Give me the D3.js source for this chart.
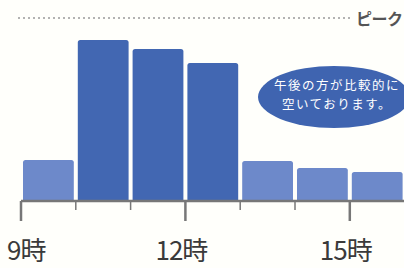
<!DOCTYPE html>
<html>
<head>
<meta charset="utf-8">
<script src="https://cdn.jsdelivr.net/npm/d3@7"></script>
<style>
  body { margin: 0; background: #fffffb; }
  svg { display: block; font-family: "Noto Sans CJK JP", sans-serif; }
</style>
</head>
<body>
<svg id="chart" width="404" height="268"></svg>
<script>
// Data
var hours = [9, 10, 11, 12, 13, 14, 15];
var crowd = [40, 160, 151, 137, 39, 32, 28];
var busy = [false, true, true, true, false, false, false];
var labelHours = [9, 12, 15];
var peakValue = 182;
var peakLabel = "ピーク";
var noteLines = ["午後の方が比較的に", "空いております。"];

var svg = d3.select("#chart");

var x = d3.scaleLinear().domain([9, 16]).range([21, 404.6]);
var y = d3.scaleLinear().domain([0, 200]).range([200, 0]);

// peak line
svg.append("line")
  .attr("x1", 18).attr("x2", 352)
  .attr("y1", y(peakValue)).attr("y2", y(peakValue))
  .attr("stroke", "#9a9a9a")
  .attr("stroke-width", 1.6)
  .attr("stroke-dasharray", "2,3");
svg.append("text")
  .attr("x", 356).attr("y", y(peakValue) + 7)
  .attr("font-size", 16)
  .attr("font-weight", "bold")
  .attr("letter-spacing", -0.5)
  .attr("fill", "#555")
  .text(peakLabel);

// bars
svg.selectAll(".bar")
  .data(hours)
  .enter()
  .append("path")
  .attr("class", "bar")
  .attr("d", function(d, i) {
    var x0 = x(d) + 2, x1 = x(d + 1) - 2, top = y(crowd[i]), bot = y(0), r = 2.5;
    return "M" + x0 + "," + bot + "V" + (top + r) + "Q" + x0 + "," + top + " " + (x0 + r) + "," + top +
      "H" + (x1 - r) + "Q" + x1 + "," + top + " " + x1 + "," + (top + r) + "V" + bot + "Z";
  })
  .attr("fill", function(d, i) { return busy[i] ? "#4267b2" : "#6d89ca"; });

// axis
svg.append("line")
  .attr("x1", x(9)).attr("x2", 404)
  .attr("y1", 201).attr("y2", 201)
  .attr("stroke", "#777").attr("stroke-width", 2.5);

svg.selectAll(".tick")
  .data(hours)
  .enter()
  .append("line")
  .attr("class", "tick")
  .attr("x1", function(d) { return x(d); })
  .attr("x2", function(d) { return x(d); })
  .attr("y1", 201)
  .attr("y2", function(d) { return labelHours.indexOf(d) >= 0 ? 221 : 210; })
  .attr("stroke", "#777")
  .attr("stroke-width", function(d) { return labelHours.indexOf(d) >= 0 ? 2.5 : 1.5; });

svg.selectAll(".hlabel")
  .data(labelHours)
  .enter()
  .append("text")
  .attr("class", "hlabel")
  .attr("x", function(d) { return d == 9 ? 7 : x(d) - 4; })
  .attr("y", 260)
  .attr("text-anchor", function(d) { return d == 9 ? "start" : "middle"; })
  .attr("font-size", 26)
  .attr("fill", "#3a3a3a")
  .attr("letter-spacing", -1)
  .text(function(d) { return d + "時"; });

// note bubble
svg.append("ellipse")
  .attr("cx", 334).attr("cy", 97)
  .attr("rx", 76).attr("ry", 31)
  .attr("fill", "#3f64b0");
svg.selectAll(".note")
  .data(noteLines)
  .enter()
  .append("text")
  .attr("class", "note")
  .attr("x", 337)
  .attr("y", function(d, i) { return 90 + i * 18.5; })
  .attr("text-anchor", "middle")
  .attr("font-size", 12.5)
  .attr("letter-spacing", 1.5)
  .attr("fill", "#fff")
  .text(function(d) { return d; });
</script>
</body>
</html>
